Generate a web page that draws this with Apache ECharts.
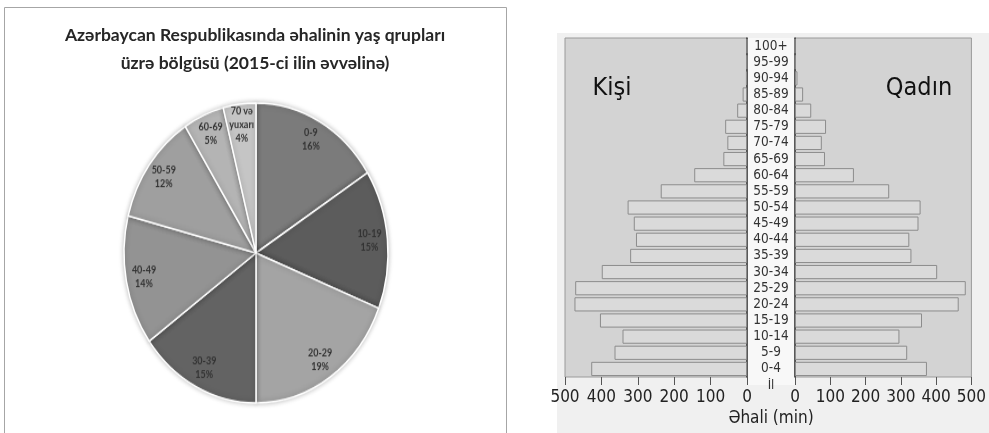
<!DOCTYPE html>
<html>
<head>
<meta charset="utf-8">
<script src="https://cdn.jsdelivr.net/npm/echarts@6/dist/echarts.min.js"></script>
<style>
  html, body { margin: 0; padding: 0; background: #fff; }
  #main { position: absolute; left: 0; top: 0; width: 989px; height: 433px; }
  #pie { position: absolute; left: 106px; top: 103px; width: 300px; height: 300px;
         transform: scaleY(1.136); transform-origin: 50% 50%; }
</style>
</head>
<body>
<div id="main"></div>
<div id="pie"></div>
<script>
// Age-group shares (%), start of 2015
const pieGroups = ['0-9', '10-19', '20-29', '30-39', '40-49', '50-59', '60-69', '70 və\nyuxarı'];
const pieShares = [16, 15, 19, 15, 14, 12, 5, 4];
const pieColors = ['#7b7b7b', '#5c5c5c', '#a4a4a4', '#636363', '#939393', '#9f9f9f', '#b4b4b4', '#c5c5c5'];

// Population by five-year age group (thousands)
const ageGroups = ['0-4', '5-9', '10-14', '15-19', '20-24', '25-29', '30-34', '35-39', '40-44', '45-49',
                   '50-54', '55-59', '60-64', '65-69', '70-74', '75-79', '80-84', '85-89', '90-94', '95-99', '100+'];
const male   = [428, 364, 342, 404, 474, 472, 399, 321, 305, 311, 328, 237, 145, 65, 54, 60, 27, 12, 3, 1, 0];
const female = [374, 318, 296, 360, 464, 484, 403, 330, 324, 350, 356, 267, 167, 85, 76, 88, 46, 23, 7, 1, 0];
const xTicks = { min: 0, max: 500, interval: 100 };

const axisFont = 'DejaVu Sans Condensed, DejaVu Sans, sans-serif';

const main = echarts.init(document.getElementById('main'), null, { renderer: 'canvas' });
const barStyle = { color: '#dadada', borderColor: '#8c8c8c', borderWidth: 1 };

main.setOption({
  animation: false,
  backgroundColor: '#ffffff',
  graphic: [
    // frame around the pie panel
    { type: 'rect', shape: { x: 4.5, y: 7.5, width: 502, height: 440 },
      style: { fill: '#fff', stroke: '#a6a6a6', lineWidth: 1 }, z: -10 },
    { type: 'text', x: 255, y: 21, style: {
        text: 'Azərbaycan Respublikasında əhalinin yaş qrupları\nüzrə bölgüsü (2015-ci ilin əvvəlinə)',
        textAlign: 'center',
        font: 'bold 17.5px Lato, "Open Sans", sans-serif', fill: '#262626', lineHeight: 28 } },
    // pyramid panel background and centre label column
    { type: 'rect', shape: { x: 557, y: 33, width: 432, height: 400 },
      style: { fill: '#f0f0f0' }, z: -10 },
    { type: 'rect', shape: { x: 747, y: 38, width: 48, height: 347 },
      style: { fill: '#f8f8f8' }, z: -9 },
    { type: 'text', x: 771, y: 379, style: { text: 'İl', textAlign: 'center',
        font: '13px ' + axisFont, fill: '#333' } },
    { type: 'text', x: 612, y: 76, style: { text: 'Kişi', textAlign: 'center',
        font: '25px ' + axisFont, fill: '#111' } },
    { type: 'text', x: 919, y: 76, style: { text: 'Qadın', textAlign: 'center',
        font: '25px ' + axisFont, fill: '#111' } },
    { type: 'text', x: 771, y: 410, style: { text: 'Əhali (min)', textAlign: 'center',
        font: '17px ' + axisFont, fill: '#222' } }
  ],
  grid: [
    { left: 565, top: 38, width: 182, height: 339, show: true, backgroundColor: '#d3d3d3',
      borderColor: '#9a9a9a', borderWidth: 1 },
    { left: 795, top: 38, width: 183, height: 339, show: true, backgroundColor: '#d3d3d3',
      borderColor: '#9a9a9a', borderWidth: 1 }
  ],
  xAxis: [
    { type: 'value', gridIndex: 0, inverse: true, min: xTicks.min, max: xTicks.max, interval: xTicks.interval,
      axisLine: { show: false }, splitLine: { show: false },
      axisTick: { show: true, length: 8, lineStyle: { color: '#555' } },
      axisLabel: { fontFamily: axisFont, fontSize: 17, color: '#222', margin: 12 } },
    { type: 'value', gridIndex: 1, min: xTicks.min, max: xTicks.max, interval: xTicks.interval,
      axisLine: { show: false }, splitLine: { show: false },
      axisTick: { show: true, length: 8, lineStyle: { color: '#555' } },
      axisLabel: { fontFamily: axisFont, fontSize: 17, color: '#222', margin: 12 } }
  ],
  yAxis: [
    { type: 'category', gridIndex: 0, data: ageGroups, position: 'right',
      axisLine: { show: true, lineStyle: { color: '#333', width: 1.5 } },
      axisTick: { show: false }, axisLabel: { show: false } },
    { type: 'category', gridIndex: 1, data: ageGroups, position: 'left',
      axisLine: { show: true, lineStyle: { color: '#333', width: 1.5 } },
      axisTick: { show: false },
      axisLabel: { interval: 0, align: 'center', margin: 24, fontFamily: axisFont, fontSize: 13.5, color: '#333' } }
  ],
  series: [
    { type: 'bar', name: 'Kişi', xAxisIndex: 0, yAxisIndex: 0, data: male,
      barCategoryGap: '12%', itemStyle: barStyle },
    { type: 'bar', name: 'Qadın', xAxisIndex: 1, yAxisIndex: 1, data: female,
      barCategoryGap: '12%', itemStyle: barStyle }
  ]
});

// Pie of the broader age groups (stretched vertically by CSS)
const pie = echarts.init(document.getElementById('pie'), null, { renderer: 'canvas' });
const pieData = pieGroups.map((g, i) => ({ name: g, value: pieShares[i], itemStyle: { color: pieColors[i] } }));
pie.setOption({
  animation: false,
  series: [
    { type: 'pie', center: ['50%', '50%'], radius: [0, 132], startAngle: 90, clockwise: true,
      label: { show: false }, labelLine: { show: false }, silent: true,
      itemStyle: { borderColor: '#ffffff', borderWidth: 1.5, shadowBlur: 5, shadowColor: 'rgba(0,0,0,0.25)' },
      data: pieData },
    // label ring: puts each label near the outer edge of its slice
    { type: 'pie', center: ['50%', '50%'], radius: [90, 132], startAngle: 90, clockwise: true, silent: true,
      itemStyle: { color: 'transparent', borderWidth: 0 },
      label: { show: true, position: 'inside', formatter: p => p.name + '\n' + p.value + '%',
               fontFamily: 'Lato, sans-serif', fontSize: 9, fontWeight: 'bold', color: '#333', lineHeight: 12 },
      labelLine: { show: false },
      data: pieGroups.map((g, i) => ({ name: g, value: pieShares[i] })) }
  ]
});
</script>
</body>
</html>
